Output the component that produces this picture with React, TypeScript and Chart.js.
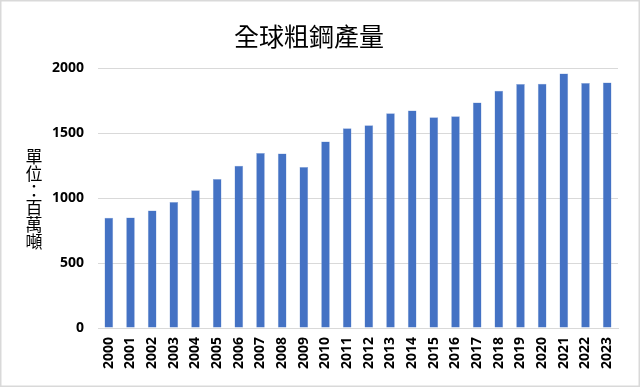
import React, { useEffect, useRef } from "react";
import { Chart, registerables } from "chart.js";

Chart.register(...registerables);

const years = ["2000","2001","2002","2003","2004","2005","2006","2007","2008","2009","2010","2011","2012","2013","2014","2015","2016","2017","2018","2019","2020","2021","2022","2023"];
const production = [848, 850, 904, 969, 1060, 1147, 1248, 1347, 1342, 1238, 1434, 1537, 1560, 1651, 1674, 1621, 1628, 1735, 1825, 1876, 1879, 1958, 1885, 1889];
const chartTitle = "全球粗鋼產量";
const yAxisTitleChars = ["單", "位", "：", "百", "萬", "噸"];

const frameAndTitlePlugin = {
  id: "frameAndTitle",
  beforeDraw(chart: any) {
    const { ctx, width, height } = chart;
    ctx.save();
    ctx.fillStyle = "#ffffff";
    ctx.fillRect(0, 0, width, height);
    ctx.strokeStyle = "#d9d9d9";
    ctx.lineWidth = 1.5;
    ctx.strokeRect(0.75, 0.75, width - 1.5, height - 1.5);
    ctx.restore();
  },
  afterDraw(chart: any) {
    const { ctx } = chart;
    ctx.save();
    ctx.fillStyle = "#000000";
    ctx.font = "17px 'Noto Sans CJK TC'";
    ctx.textAlign = "center";
    ctx.textBaseline = "middle";
    const startY = 157;
    const step = 17;
    yAxisTitleChars.forEach((c, i) => {
      ctx.fillText(c, 34, startY + i * step);
    });
    ctx.restore();
  },
};

export default function App() {
  const canvasRef = useRef<HTMLCanvasElement | null>(null);

  useEffect(() => {
    document.body.style.margin = "0";
    const canvas = canvasRef.current;
    if (!canvas) return;
    const chart = new Chart(canvas, {
      type: "bar",
      data: {
        labels: years,
        datasets: [
          {
            data: production,
            backgroundColor: "#4472C4",
            borderColor: "#8FAADC",
            borderWidth: 0.5,
            barPercentage: 0.4,
            categoryPercentage: 1.0,
          },
        ],
      },
      options: {
        animation: false,
        responsive: false,
        layout: { padding: { top: 6, right: 22, bottom: 0, left: 0 } },
        plugins: {
          legend: { display: false },
          tooltip: { enabled: false },
          title: {
            display: true,
            text: chartTitle,
            color: "#000000",
            font: { size: 25, family: "'Noto Sans CJK TC'", weight: "normal" },
            padding: { top: 15, bottom: 17 },
          },
        },
        scales: {
          x: {
            grid: { display: false, drawTicks: false },
            border: { display: true, color: "#d9d9d9", width: 1 },
            ticks: {
              color: "#000000",
              minRotation: 90,
              maxRotation: 90,
              autoSkip: false,
              padding: 9,
              font: { size: 14, weight: "bold", family: "'Open Sans', 'Noto Sans', sans-serif" },
            },
            afterFit(scale: any) {
              scale.height = 59;
            },
          },
          y: {
            min: 0,
            max: 2000,
            grid: { color: "#d9d9d9", drawTicks: false },
            border: { display: false },
            ticks: {
              stepSize: 500,
              color: "#000000",
              padding: 14,
              font: { size: 14, weight: "bold", family: "'Open Sans', 'Noto Sans', sans-serif" },
              callback: (v: any) => String(v),
            },
            afterFit(scale: any) {
              scale.width = 98;
            },
          },
        },
      },
      plugins: [frameAndTitlePlugin],
    });
    return () => chart.destroy();
  }, []);

  return (
    <div style={{ position: "absolute", left: 0, top: 0, width: 640, height: 387 }}>
      <canvas ref={canvasRef} width={640} height={387} style={{ width: 640, height: 387 }} />
    </div>
  );
}
